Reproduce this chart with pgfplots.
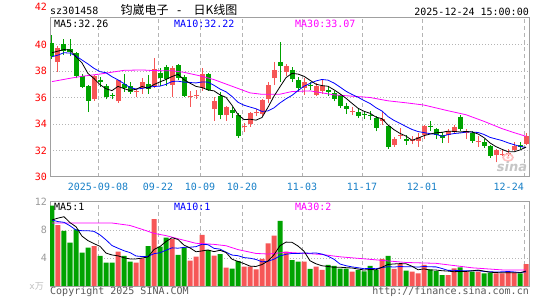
\documentclass[border=0pt]{standalone}
\usepackage{pgfplots}
\pgfplotsset{compat=1.18}
\usepackage{pgfplotstable}
\usepackage{fontspec}
\setmainfont{DejaVu Sans}
\setmonofont{DejaVu Sans Mono}
\newfontfamily\cjk{Noto Sans CJK SC}
\definecolor{cred}{RGB}{246,86,86}
\definecolor{cgreen}{RGB}{0,163,0}
\definecolor{lblue}{RGB}{24,128,200}
\definecolor{axisgray}{RGB}{160,160,160}
\definecolor{gridgray}{RGB}{180,180,180}
\definecolor{magen}{RGB}{255,0,255}
\definecolor{mablue}{RGB}{0,0,255}
\newcommand{\mono}{\ttfamily\fontsize{10bp}{12bp}\selectfont}

\pgfplotstableread{
i o h l c v
0 40.1 40.7 38.9 39.1 11.48
1 38.7 39.85 37.95 39.7 8.71
2 40.05 40.4 39.2 39.5 7.86
3 39.65 40.4 39.1 39.45 6.19
4 39.35 39.45 37.45 37.6 8.1
5 37.6 37.8 36.7 36.8 4.76
6 36.85 36.95 34.9 35.7 5.48
7 35.85 37.7 35.75 37.6 5.71
8 37.35 37.55 36.8 37.15 4.29
9 36.9 37.0 35.85 36.05 3.33
10 36.18 36.35 35.85 36.1 3.33
11 35.7 37.35 35.6 37.3 4.9
12 37.0 37.8 36.45 36.75 4.29
13 36.85 37.15 36.3 36.45 3.48
14 36.4 36.65 36.0 36.5 3.33
15 36.7 37.45 36.3 37.15 3.95
16 37.0 37.7 36.3 36.65 5.71
17 36.9 39.0 36.75 38.15 9.57
18 37.87 38.25 36.9 37.45 5.62
19 38.3 38.45 36.85 37.4 6.9
20 36.95 38.35 36.05 38.25 6.71
21 38.45 38.5 37.3 37.5 4.43
22 37.55 37.7 36.05 36.1 5.52
23 36.05 36.5 35.3 36.15 3.62
24 36.1 36.6 35.9 36.2 4.19
25 36.75 38.25 36.5 37.8 7.29
26 37.8 37.85 36.5 36.6 5.14
27 35.1 36.0 34.25 35.75 4.33
28 36.1 36.4 34.35 34.65 4.57
29 34.65 35.35 34.25 35.25 2.62
30 35.05 35.3 34.45 34.8 2.48
31 34.65 34.85 32.95 33.1 3.57
32 33.75 34.05 33.4 33.85 2.76
33 34.0 34.9 33.8 34.8 2.76
34 34.8 35.1 34.6 34.9 2.38
35 34.75 35.9 34.6 35.8 3.86
36 35.9 37.2 35.6 36.95 6.1
37 37.45 38.7 36.95 38.05 7.19
38 38.65 40.2 37.2 38.35 9.29
39 37.95 38.55 37.6 38.35 4.9
40 38.1 38.3 37.2 37.4 3.71
41 37.3 37.55 36.45 36.7 3.48
42 36.7 37.45 36.2 37.2 3.48
43 36.95 37.2 36.6 36.85 2.43
44 36.2 37.1 36.1 36.85 2.76
45 36.5 37.3 36.3 36.9 2.29
46 36.55 36.8 36.1 36.45 3.0
47 36.35 36.5 35.7 35.85 2.86
48 36.2 36.3 35.2 35.35 2.48
49 35.35 35.55 34.75 35.15 2.48
50 34.92 35.25 34.7 35.0 2.05
51 34.9 35.1 34.45 34.6 2.29
52 34.78 34.95 34.4 34.7 2.1
53 34.68 34.95 34.3 34.6 2.86
54 34.45 34.6 33.45 33.7 2.29
55 34.25 35.0 33.95 34.4 3.86
56 33.85 33.95 32.15 32.25 4.29
57 32.4 33.05 32.3 32.9 2.43
58 33.12 33.7 32.9 33.2 3.14
59 32.9 33.2 32.45 32.7 2.19
60 32.72 33.1 32.5 32.8 2.05
61 32.75 33.3 32.3 33.05 1.81
62 33.2 33.95 32.85 33.85 3.0
63 33.88 34.2 33.5 33.8 2.38
64 33.65 33.7 32.85 33.2 2.14
65 33.2 33.4 32.55 32.95 1.57
66 33.15 33.6 32.6 33.5 1.57
67 33.4 33.95 33.3 33.75 2.52
68 34.55 34.7 33.5 33.6 2.67
69 33.32 33.6 32.85 33.4 2.05
70 33.35 33.45 32.6 32.75 2.05
71 32.67 33.1 32.3 32.75 2.05
72 32.65 32.85 32.2 32.35 1.81
73 32.35 32.4 31.45 31.6 1.9
74 31.65 32.1 31.1 32.0 1.81
75 31.67 32.05 31.55 31.75 1.81
76 31.72 32.1 31.6 31.8 2.05
77 32.0 32.65 31.95 32.35 1.9
78 32.4 32.65 32.15 32.3 1.81
79 32.5 33.3 32.4 33.1 3.14
}\kdata

\pgfplotstableread{
i m5 m10 vm5 vm10
0 39.38 39.08 9.43 9.43
1 39.50 39.20 9.70 9.20
2 39.62 39.38 9.90 9.10
3 39.58 39.35 9.05 8.60
4 39.07 39.13 8.47 8.00
5 38.61 38.83 7.12 7.90
6 37.81 38.53 6.48 7.90
7 37.43 38.20 6.05 7.80
8 36.97 37.95 5.67 7.30
9 36.66 37.87 4.71 6.59
10 36.52 37.57 4.43 5.78
11 36.84 37.33 4.31 5.40
12 36.67 37.05 4.03 5.04
13 36.53 36.75 3.87 4.77
14 36.62 36.64 3.87 4.29
15 36.83 36.68 3.99 4.21
16 36.70 36.77 4.15 4.23
17 36.98 36.83 5.21 4.62
18 37.18 36.86 5.64 4.75
19 37.36 36.99 6.35 5.11
20 37.58 37.21 6.90 5.45
21 37.75 37.23 6.65 5.40
22 37.34 37.16 5.84 5.52
23 37.08 37.13 5.44 5.54
24 36.84 37.10 4.89 5.62
25 36.75 37.17 5.01 5.96
26 36.57 37.16 5.15 5.90
27 36.50 36.92 4.91 5.38
28 36.20 36.64 5.10 5.27
29 36.01 36.43 4.79 4.84
30 35.41 36.08 3.83 4.42
31 34.71 35.64 3.51 4.33
32 34.33 35.42 3.20 4.06
33 34.36 35.28 2.84 3.97
34 34.29 35.15 2.79 3.79
35 34.49 34.95 3.07 3.45
36 35.26 34.99 3.57 3.54
37 36.10 35.22 4.46 3.83
38 36.81 35.59 5.76 4.30
39 37.50 35.90 6.27 4.53
40 37.82 36.16 6.24 4.65
41 37.77 36.52 5.71 4.64
42 37.60 36.85 4.97 4.72
43 37.30 37.06 3.60 4.68
44 37.00 37.25 3.17 4.72
45 36.90 37.36 2.89 4.56
46 36.85 37.31 2.79 4.25
47 36.58 37.09 2.67 3.82
48 36.28 36.79 2.68 3.14
49 35.94 36.47 2.62 2.90
50 35.56 36.23 2.57 2.73
51 35.19 36.02 2.43 2.61
52 34.96 35.77 2.28 2.47
53 34.81 35.55 2.36 2.52
54 34.52 35.23 2.32 2.47
55 34.40 34.98 2.68 2.63
56 33.93 34.56 3.08 2.76
57 33.57 34.27 3.15 2.71
58 33.29 34.05 3.20 2.78
59 33.09 33.81 3.18 2.75
60 32.77 33.59 2.82 2.75
61 32.93 33.43 2.32 2.70
62 33.12 33.35 2.44 2.79
63 33.24 33.27 2.29 2.74
64 33.34 33.22 2.28 2.73
65 33.37 33.07 2.18 2.50
66 33.46 33.20 2.13 2.23
67 33.44 33.28 2.04 2.24
68 33.40 33.32 2.09 2.19
69 33.44 33.39 2.08 2.18
70 33.40 33.39 2.17 2.18
71 33.25 33.36 2.27 2.20
72 32.97 33.21 2.13 2.08
73 32.57 32.99 1.97 2.03
74 32.29 32.87 1.92 2.00
75 32.09 32.75 1.88 2.02
76 31.90 32.58 1.88 2.07
77 31.90 32.44 1.89 2.01
78 32.04 32.31 1.88 1.92
79 32.26 32.22 2.14 2.03
}\madata

\pgfplotsset{
  kbase/.style={
    scale only axis, width=479bp,
    xmin=-0.3333, xmax=79.5,
    axis line style={draw=axisgray, line width=1bp},
    xtick={7.6667,17.6667,24.6667,31.6667,41.6667,51.6667,61.6667,78.6667},
    xticklabels={,,,,,,,}, yticklabels={,,,,},
    tick label style={opacity=0},
    major tick length=0pt,
    xmajorgrids, ymajorgrids,
    x grid style={gridgray, line width=0.8bp, dash pattern=on 4bp off 3bp},
    y grid style={gridgray, line width=0.8bp, dash pattern=on 1bp off 2bp},
  },
  upk/.style={restrict expr to domain={\thisrow{c}-\thisrow{o}}{0:1000}},
  dnk/.style={restrict expr to domain={\thisrow{c}-\thisrow{o}}{-1000:-0.00001}},
}

\begin{document}
\begin{tikzpicture}
\useasboundingbox (0,0) rectangle (545bp,300bp);
\fill[white] (0,0) rectangle (545bp,300bp);

% ---------- price panel ----------
\begin{axis}[kbase, at={(50bp,123bp)}, anchor=south west, height=159bp,
  ymin=30, ymax=42, ytick={32,34,36,38,40}]
  % wicks
  \addplot[cred, line width=1bp, upk, quiver={u=0, v={\thisrow{h}-\thisrow{l}}}] table[x=i, y=l] {\kdata};
  \addplot[cgreen, line width=1bp, dnk, quiver={u=0, v={\thisrow{h}-\thisrow{l}}}] table[x=i, y=l] {\kdata};
  % bodies
  \addplot[cred, line width=5bp, line cap=butt, upk, quiver={u=0, v={max(\thisrow{c}-\thisrow{o},0.08)}}] table[x=i, y=o] {\kdata};
  \addplot[cgreen, line width=5bp, line cap=butt, dnk, quiver={u=0, v={min(\thisrow{c}-\thisrow{o},-0.08)}}] table[x=i, y=o] {\kdata};
  % moving averages
  \addplot[magen, line width=0.8bp, mark=none] coordinates {
    (0,37.2) (3,37.45) (5,37.6) (8,37.77) (12,38.05) (15,38.08) (17,38.03) (20,38.02)
    (22,37.9) (25,37.6) (27,37.35) (30,36.85) (33,36.35) (35,36.24) (38,36.25) (40,36.45)
    (43,36.5) (47,36.2) (50,36.1) (53,36.0) (56,35.75) (59,35.6) (62,35.43) (66,35.0)
    (69,34.7) (72,34.2) (75,33.65) (77,33.35) (79,33.07)};
  \addplot[mablue, line width=0.8bp, mark=none] table[x=i, y=m10] {\madata};
  \addplot[black, line width=0.8bp, mark=none] table[x=i, y=m5] {\madata};
\end{axis}

% ---------- volume panel ----------
\begin{axis}[kbase, at={(50bp,14bp)}, anchor=south west, height=84bp,
  ymin=0, ymax=12, ytick={4,8}, yticklabels={,}]
  \addplot[ybar, bar width=5bp, bar shift=0pt, fill=cred, draw=none, upk] table[x=i, y=v] {\kdata};
  \addplot[ybar, bar width=5bp, bar shift=0pt, fill=cgreen, draw=none, dnk] table[x=i, y=v] {\kdata};
  \addplot[magen, line width=0.8bp, mark=none] coordinates {
    (0,9.0) (10,9.0) (13,8.65) (15,8.1) (17,7.52) (19,7.2) (21,6.75) (24,6.1) (27,5.95)
    (29,5.75) (31,5.2) (34,4.65) (36,4.57) (39,4.81) (42,4.67) (45,4.5) (48,4.17) (53,3.81)
    (59,3.36) (64,3.24) (70,2.6) (75,2.3) (79,2.29)};
  \addplot[mablue, line width=0.8bp, mark=none] table[x=i, y=vm10] {\madata};
  \addplot[black, line width=0.8bp, mark=none] table[x=i, y=vm5] {\madata};
\end{axis}

% ---------- texts ----------
\node[anchor=west, inner sep=0pt] at (50bp,289bp) {\mono sz301458};
\node[anchor=west, inner sep=0pt] at (120.5bp,290bp) {\cjk\fontsize{12bp}{14bp}\selectfont 钧崴电子\hspace{7bp}{\ttfamily -}\hspace{10.8bp}日K线图};
\node[anchor=east, inner sep=0pt] at (529bp,288.5bp) {\mono 2025-12-24 15:00:00};

\node[anchor=west, inner sep=0pt] at (54bp,276.3bp) {\mono MA5:32.26};
\node[anchor=west, inner sep=0pt, text=mablue] at (174bp,276.3bp) {\mono MA10:32.22};
\node[anchor=west, inner sep=0pt, text=magen] at (295bp,276.3bp) {\mono MA30:33.07};

\foreach \lab/\yy in {42/293, 40/255.5, 38/229, 36/202.5, 34/176, 32/149.5, 30/123}
  \node[anchor=east, inner sep=0pt, text=red] at (47bp,\yy bp) {\mono \lab};

\foreach \lab/\xx in {2025-09-08/98, 09-22/158, 10-09/200, 10-20/242, 11-03/302, 11-17/362, 12-01/422}
  \node[inner sep=0pt, text=lblue] at (\xx bp,113.5bp) {\mono \lab};
\node[anchor=east, inner sep=0pt, text=lblue] at (524bp,113.5bp) {\mono 12-24};

% sina watermark
\draw[red!25, line width=1.6bp] (508bp,142.5bp) ellipse (5bp and 3.5bp);
\fill[red!25] (508bp,142.5bp) circle (1.6bp);
\node[inner sep=0pt, text=gray!45] at (512bp,133.5bp) {\fontsize{13bp}{13bp}\selectfont\bfseries\itshape sina};

\node[anchor=west, inner sep=0pt] at (54bp,93.5bp) {\mono MA5:1};
\node[anchor=west, inner sep=0pt, text=mablue] at (174bp,93.5bp) {\mono MA10:1};
\node[anchor=west, inner sep=0pt, text=magen] at (295bp,93.5bp) {\mono MA30:2};

\foreach \lab/\yy in {12/98, 8/70, 4/42}
  \node[anchor=east, inner sep=0pt, text=gray!80] at (47bp,\yy bp) {\mono \lab};
\node[anchor=east, inner sep=0pt, text=gray!50] at (44bp,14bp) {\fontsize{9bp}{10bp}\selectfont\ttfamily x{\cjk 万}};

\node[anchor=west, inner sep=0pt, text=black!65] at (50bp,8bp) {\mono Copyright 2025 SINA.COM};
\node[anchor=east, inner sep=0pt, text=black!65] at (529bp,8bp) {\mono http://finance.sina.com.cn};
\end{tikzpicture}
\end{document}
